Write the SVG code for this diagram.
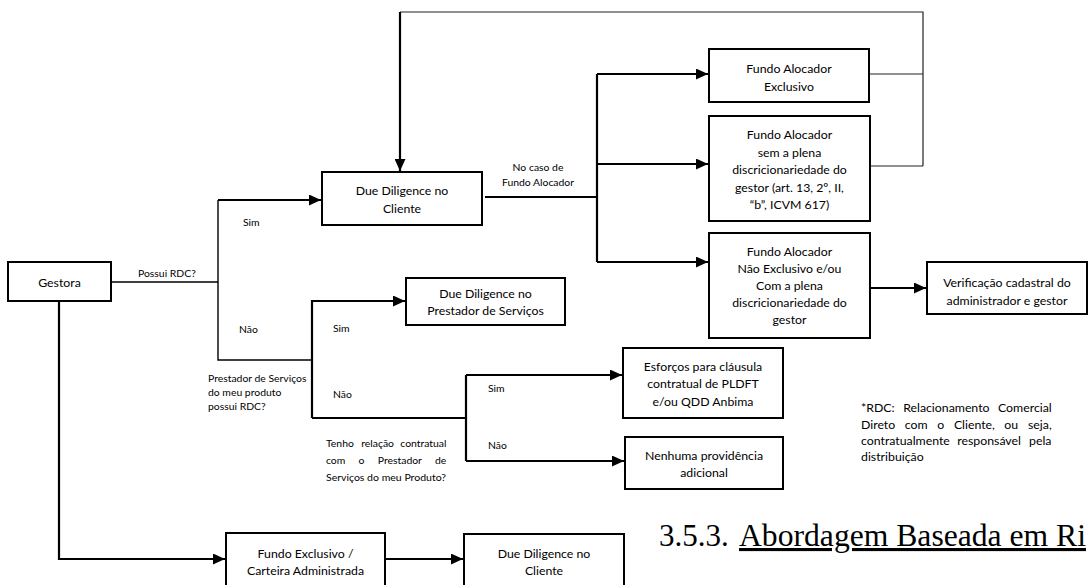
<svg xmlns="http://www.w3.org/2000/svg" width="1088" height="585" viewBox="0 0 1088 585">
<style>
.box{fill:#fff;stroke:#000;stroke-width:2}
.bt{font-family:Lato,"Liberation Sans",sans-serif;font-size:12.3px;fill:#000;text-anchor:middle}
.lb{font-family:Lato,"Liberation Sans",sans-serif;font-size:10.4px;fill:#000}
.nt{font-family:Lato,"Liberation Sans",sans-serif;font-size:12.3px;fill:#000}
.c{fill:none;stroke:#000;stroke-width:2.2}
.ct{fill:none;stroke:#000;stroke-width:1.4}
.cf{fill:none;stroke:#222;stroke-width:1.2}
.hd{font-family:"Liberation Serif",serif;font-size:31px;fill:#000}
</style>
<defs>
<marker id="ah" markerUnits="userSpaceOnUse" markerWidth="12" markerHeight="11" refX="12" refY="5.5" orient="auto">
<path d="M0,0 L12,5.5 L0,11 z" fill="#000"/>
</marker>
</defs>
<rect width="1088" height="585" fill="#fff"/>

<g id="connectors">
<path class="ct" d="M111,282 H218 M218,200 V360 H312"/>
<path class="c" d="M218,200 H321" marker-end="url(#ah)"/>
<path class="c" d="M312,418 V301 H405" marker-end="url(#ah)"/>
<path class="c" d="M312,418 H466 M466,375 V461"/>
<path class="c" d="M466,375 H622" marker-end="url(#ah)"/>
<path class="c" d="M466,461 H624" marker-end="url(#ah)"/>
<path class="c" d="M485,197 H597 M597,74 V262"/>
<path class="c" d="M597,74 H708" marker-end="url(#ah)"/>
<path class="c" d="M597,164 H708" marker-end="url(#ah)"/>
<path class="c" d="M597,262 H708" marker-end="url(#ah)"/>
<path class="cf" d="M869,74 H923 M870,166 H923 M923,166 V12 H400"/>
<path class="c" d="M400,12 V171" marker-end="url(#ah)"/>
<path class="c" d="M870,288 H926" marker-end="url(#ah)"/>
<path class="c" d="M59,301 V559 H225" marker-end="url(#ah)"/>
<path class="c" d="M386,559 H463" marker-end="url(#ah)"/>
</g>

<g id="gestora">
<rect class="box" x="8" y="262" width="103" height="39"/>
<text class="bt" x="59.5" y="286.5">Gestora</text>
</g>
<g id="dd-cliente">
<rect class="box" x="322" y="172" width="160" height="53"/>
<text class="bt" x="402" y="194.5">Due Diligence no</text>
<text class="bt" x="402" y="212.5">Cliente</text>
</g>
<g id="fa-exclusivo">
<rect class="box" x="709" y="49" width="160" height="53"/>
<text class="bt" x="789" y="72.5">Fundo Alocador</text>
<text class="bt" x="789" y="90.5">Exclusivo</text>
</g>
<g id="fa-sem-plena">
<rect class="box" x="709" y="116" width="161" height="105"/>
<text class="bt" x="789.5" y="139">Fundo Alocador</text>
<text class="bt" x="789.5" y="156.5">sem a plena</text>
<text class="bt" x="789.5" y="174">discricionariedade do</text>
<text class="bt" x="789.5" y="191.5">gestor (art. 13, 2º, II,</text>
<text class="bt" x="789.5" y="209">“b”, ICVM 617)</text>
</g>
<g id="fa-nao-exclusivo">
<rect class="box" x="709" y="233" width="161" height="105"/>
<text class="bt" x="789.5" y="256">Fundo Alocador</text>
<text class="bt" x="789.5" y="273">Não Exclusivo e/ou</text>
<text class="bt" x="789.5" y="290">Com a plena</text>
<text class="bt" x="789.5" y="307">discricionariedade do</text>
<text class="bt" x="789.5" y="324">gestor</text>
</g>
<g id="verificacao">
<rect class="box" x="927" y="262" width="160" height="52"/>
<text class="bt" x="1007" y="286.5">Verificação cadastral do</text>
<text class="bt" x="1007" y="304.5">administrador e gestor</text>
</g>
<g id="dd-prestador">
<rect class="box" x="406" y="278" width="159" height="47"/>
<text class="bt" x="485.5" y="297.5">Due Diligence no</text>
<text class="bt" x="485.5" y="314.5">Prestador de Serviços</text>
</g>
<g id="esforcos">
<rect class="box" x="623" y="348" width="160" height="70"/>
<text class="bt" x="703" y="370.5">Esforços para cláusula</text>
<text class="bt" x="703" y="388">contratual de PLDFT</text>
<text class="bt" x="703" y="405.5">e/ou QDD Anbima</text>
</g>
<g id="nenhuma">
<rect class="box" x="625" y="437" width="158" height="52"/>
<text class="bt" x="704" y="459.5">Nenhuma providência</text>
<text class="bt" x="704" y="476.5">adicional</text>
</g>
<g id="fundo-exclusivo">
<rect class="box" x="226" y="533" width="159" height="62"/>
<text class="bt" x="305.5" y="557.5">Fundo Exclusivo /</text>
<text class="bt" x="305.5" y="574.5">Carteira Administrada</text>
</g>
<g id="dd-cliente-2">
<rect class="box" x="464" y="534" width="160" height="62"/>
<text class="bt" x="544" y="557.5">Due Diligence no</text>
<text class="bt" x="544" y="574.5">Cliente</text>
</g>

<g id="labels">
<text class="lb" x="138" y="277">Possui RDC?</text>
<text class="lb" x="243" y="226">Sim</text>
<text class="lb" x="239" y="333">Não</text>
<text class="lb" x="208" y="382">Prestador de Serviços</text>
<text class="lb" x="208" y="396">do meu produto</text>
<text class="lb" x="208" y="410">possui RDC?</text>
<text class="lb" x="333" y="332">Sim</text>
<text class="lb" x="333" y="398">Não</text>
<text class="lb" x="488" y="392">Sim</text>
<text class="lb" x="488" y="449">Não</text>
<text class="lb" x="538" y="171" text-anchor="middle">No caso de</text>
<text class="lb" x="538" y="186" text-anchor="middle">Fundo Alocador</text>
<text class="lb" y="447"><tspan x="326">Tenho</tspan><tspan x="361.3">relação</tspan><tspan x="400.3">contratual</tspan></text>
<text class="lb" y="464"><tspan x="326">com</tspan><tspan x="358.5">o</tspan><tspan x="377.8">Prestador</tspan><tspan x="435">de</tspan></text>
<text class="lb" x="326" y="481" textLength="120" lengthAdjust="spacingAndGlyphs">Serviços do meu Produto?</text>
</g>

<g id="note">
<text class="nt" y="412"><tspan x="861">*RDC:</tspan><tspan x="903.2">Relacionamento</tspan><tspan x="998">Comercial</tspan></text>
<text class="nt" y="429"><tspan x="861">Direto</tspan><tspan x="904.7">com</tspan><tspan x="937.2">o</tspan><tspan x="953.9">Cliente,</tspan><tspan x="1004.2">ou</tspan><tspan x="1028">seja,</tspan></text>
<text class="nt" y="445"><tspan x="861">contratualmente</tspan><tspan x="957.3">responsável</tspan><tspan x="1029">pela</tspan></text>
<text class="nt" x="861" y="461">distribuição</text>
</g>

<g id="heading">
<text class="hd" x="659" y="546">3.5.3.</text>
<text class="hd" x="739" y="546" text-decoration="underline" textLength="347" lengthAdjust="spacingAndGlyphs">Abordagem Baseada em Ri</text>
</g>
</svg>
